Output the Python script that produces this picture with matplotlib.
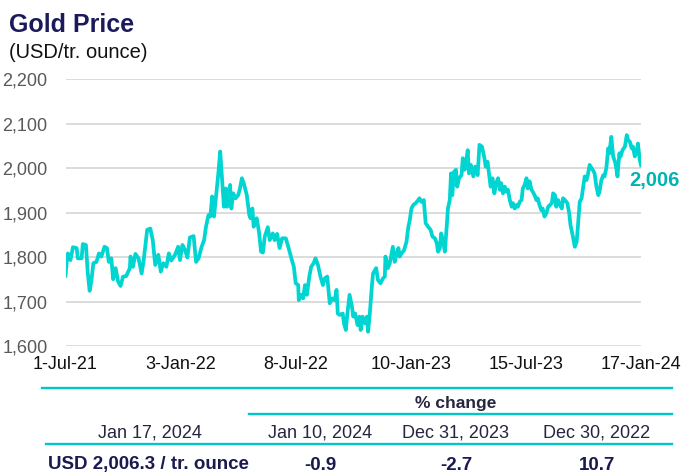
import matplotlib
matplotlib.use("Agg")
import matplotlib.pyplot as plt
from matplotlib.lines import Line2D
import pandas as pd

plt.rcParams['font.family'] = ['Liberation Sans', 'DejaVu Sans']

# ---------------- data ----------------
dates = [
"2021-07-01","2021-07-03","2021-07-05","2021-07-09","2021-07-13","2021-07-19","2021-07-21","2021-07-27","2021-07-29","2021-08-03",
"2021-08-06","2021-08-09","2021-08-12","2021-08-15","2021-08-20","2021-08-24","2021-08-28","2021-09-02","2021-09-06","2021-09-09",
"2021-09-13","2021-09-16","2021-09-20","2021-09-24","2021-09-28","2021-10-02","2021-10-07","2021-10-13","2021-10-14","2021-10-18",
"2021-10-22","2021-10-27","2021-11-01","2021-11-04","2021-11-10","2021-11-15","2021-11-19","2021-11-23","2021-11-28","2021-12-02",
"2021-12-06","2021-12-11","2021-12-15","2021-12-19","2021-12-25","2021-12-30","2022-01-02","2022-01-06","2022-01-10","2022-01-14",
"2022-01-18","2022-01-24","2022-01-28","2022-02-01","2022-02-06","2022-02-10","2022-02-13","2022-02-17",
"2022-02-20","2022-02-23","2022-02-26","2022-03-02","2022-03-05","2022-03-08","2022-03-10","2022-03-14","2022-03-17","2022-03-19",
"2022-03-24","2022-03-26","2022-03-29","2022-04-02","2022-04-06","2022-04-09","2022-04-12","2022-04-15","2022-04-20","2022-04-24",
"2022-04-26","2022-04-29","2022-05-01","2022-05-06","2022-05-10","2022-05-13","2022-05-16","2022-05-19","2022-05-24","2022-05-27",
"2022-06-01","2022-06-04","2022-06-08","2022-06-12","2022-06-16","2022-06-22","2022-06-26","2022-07-01","2022-07-05","2022-07-08",
"2022-07-12","2022-07-13","2022-07-17","2022-07-20","2022-07-23","2022-07-26","2022-07-30","2022-08-02","2022-08-06","2022-08-09",
"2022-08-13","2022-08-17","2022-08-21","2022-08-24","2022-08-28","2022-09-01","2022-09-05","2022-09-09","2022-09-12","2022-09-14",
"2022-09-17","2022-09-22","2022-09-24","2022-09-27","2022-09-29","2022-10-03","2022-10-07","2022-10-09","2022-10-12","2022-10-16",
"2022-10-19","2022-10-21","2022-10-24","2022-10-28","2022-10-31","2022-11-02","2022-11-05","2022-11-08","2022-11-10","2022-11-15",
"2022-11-18","2022-11-22","2022-11-26","2022-11-29","2022-11-30","2022-12-04","2022-12-07","2022-12-10","2022-12-12","2022-12-15",
"2022-12-18","2022-12-21","2022-12-23","2022-12-26","2022-12-30","2023-01-03","2023-01-06","2023-01-08","2023-01-11","2023-01-14",
"2023-01-18","2023-01-22","2023-01-24","2023-01-27","2023-01-31","2023-02-03","2023-02-07","2023-02-11","2023-02-14","2023-02-18",
"2023-02-21","2023-02-23","2023-02-26","2023-02-28","2023-03-03","2023-03-06","2023-03-09","2023-03-11","2023-03-14","2023-03-16",
"2023-03-18","2023-03-21","2023-03-24","2023-03-26","2023-03-29","2023-04-02","2023-04-04","2023-04-07","2023-04-09","2023-04-12",
"2023-04-14","2023-04-17","2023-04-21","2023-04-24","2023-04-28","2023-05-01","2023-05-05","2023-05-09","2023-05-11","2023-05-14",
"2023-05-17","2023-05-19","2023-05-22","2023-05-25","2023-05-28","2023-05-31","2023-06-03","2023-06-05","2023-06-08","2023-06-11",
"2023-06-13","2023-06-16","2023-06-19","2023-06-22","2023-06-24","2023-06-27","2023-06-30","2023-07-02","2023-07-05","2023-07-08",
"2023-07-10","2023-07-13","2023-07-16","2023-07-18","2023-07-21","2023-07-24","2023-07-26","2023-07-29","2023-08-01","2023-08-03",
"2023-08-06","2023-08-09","2023-08-11","2023-08-14","2023-08-17","2023-08-20","2023-08-23","2023-08-26","2023-08-28","2023-08-31",
"2023-09-02","2023-09-05","2023-09-08","2023-09-11","2023-09-13","2023-09-16","2023-09-20","2023-09-23","2023-09-25","2023-09-29",
"2023-10-02","2023-10-05","2023-10-07","2023-10-10","2023-10-13","2023-10-15","2023-10-18","2023-10-21","2023-10-23","2023-10-26",
"2023-10-29","2023-10-31","2023-11-03","2023-11-06","2023-11-09","2023-11-11","2023-11-14","2023-11-17","2023-11-19","2023-11-22",
"2023-11-25","2023-11-27","2023-11-30","2023-12-03","2023-12-06","2023-12-08","2023-12-10","2023-12-13","2023-12-15","2023-12-18",
"2023-12-22","2023-12-25","2023-12-27","2023-12-30","2024-01-02","2024-01-04","2024-01-07","2024-01-10","2024-01-12","2024-01-15",
"2024-01-17",
]
prices = [
1758,1789,1808,1793,1822,1820,1797,1797,1829,1827,
1764,1724,1748,1786,1789,1808,1801,1823,1820,1789,
1797,1750,1775,1745,1735,1756,1757,1775,1801,1778,
1807,1797,1763,1789,1861,1864,1838,1782,1805,1767,
1786,1778,1808,1792,1805,1823,1793,1827,1816,1799,
1844,1847,1789,1797,1823,1838,1868,1894,
1891,1936,1891,1947,1988,2037,1996,1913,1954,1913,
1962,1909,1943,1932,1939,1954,1977,1966,1939,1894,
1887,1909,1868,1887,1853,1812,1810,1846,1867,1838,
1853,1838,1852,1820,1842,1842,1823,1797,1778,1741,
1737,1703,1715,1707,1737,1715,1756,1778,1786,1797,
1782,1756,1737,1752,1756,1696,1707,1703,1726,1673,
1670,1673,1651,1636,1666,1715,1688,1666,1673,1647,
1666,1636,1666,1651,1666,1632,1677,1733,1763,1775,
1748,1741,1752,1756,1801,1775,1786,1808,1823,1789,
1808,1820,1801,1808,1815,1834,1868,1880,1909,1917,
1921,1928,1932,1924,1928,1876,1868,1861,1846,1842,
1831,1812,1820,1853,1838,1812,1868,1909,1928,1988,
1939,1992,1996,1958,1977,1984,2022,1996,2011,2040,
1988,2007,1981,2003,1984,2052,2048,2022,2003,2014,
1981,1958,1977,1943,1966,1977,1951,1966,1943,1958,
1947,1951,1928,1913,1921,1909,1917,1913,1924,1928,
1954,1962,1977,1954,1970,1951,1947,1939,1928,1932,
1917,1905,1909,1891,1898,1913,1917,1921,1943,1939,
1913,1928,1917,1909,1932,1928,1921,1898,1872,1846,
1823,1834,1868,1924,1932,1951,1981,1973,1984,2007,
2000,1996,1988,1958,1939,1947,1973,1984,1981,2000,
2044,2033,2070,2026,2014,2000,1981,2033,2026,2040,
2048,2074,2063,2059,2044,2048,2026,2037,2055,2018,
2006.3,
]
assert len(dates) == len(prices)

tick_dates = ["2021-07-01", "2022-01-03", "2022-07-08", "2023-01-10", "2023-07-15", "2024-01-17"]
tick_labels = ["1-Jul-21", "3-Jan-22", "8-Jul-22", "10-Jan-23", "15-Jul-23", "17-Jan-24"]
y_ticks = [1600, 1700, 1800, 1900, 2000, 2100, 2200]

title = "Gold Price"
subtitle = "(USD/tr. ounce)"
table_group_header = "% change"
table_date_current = "Jan 17, 2024"
table_dates_compare = ["Jan 10, 2024", "Dec 31, 2023", "Dec 30, 2022"]
pct_changes = [-0.9, -2.7, 10.7]
current_price_text = "USD 2,006.3 / tr. ounce"

# ---------------- style ----------------
W, H = 684, 474
LINE_C = "#00D5D2"
LABEL_C = "#00B4B2"
TEAL_RULE = "#00C8C8"
NAVY = "#1B1B5C"
VAL_C = "#1A1A4E"
TXT_DARK = "#26263F"
GRID_C = "#D9D9D9"


def fx(px):
    return px / W


def fy(py):
    return 1 - py / H


fig = plt.figure(figsize=(W / 100, H / 100), dpi=100)
ax = fig.add_axes([fx(65.5), fy(346), fx(641) - fx(65.5), fy(79) - fy(346)])

x = pd.to_datetime(dates)
ax.plot(x, prices, color=LINE_C, lw=2.7, solid_joinstyle="round", zorder=3)

ax.set_xlim(pd.Timestamp(tick_dates[0]), pd.Timestamp(tick_dates[-1]))
ax.set_ylim(y_ticks[0], y_ticks[-1])
ax.set_yticks(y_ticks)
ax.set_yticklabels([f"{v:,}" for v in y_ticks])
ax.set_xticks(pd.to_datetime(tick_dates))
ax.set_xticklabels(tick_labels)

ax.grid(axis="y", color=GRID_C, lw=1.3, zorder=0)
ax.grid(axis="x", visible=False)
for s in ax.spines.values():
    s.set_visible(False)
ax.tick_params(axis="both", length=0)
ax.tick_params(axis="y", pad=13, labelsize=13, labelcolor="#595959")
ax.tick_params(axis="x", pad=7, labelsize=13, labelcolor="#111111")

# end label
ax.annotate(f"{prices[-1]:,.0f}", xy=(x[-1], prices[-1]), xytext=(-12, -15),
            textcoords="offset pixels", ha="left", va="center",
            fontsize=14.5, fontweight="bold", color=LABEL_C, annotation_clip=False)

# titles
fig.text(fx(9), fy(32.3), title, fontsize=18, fontweight="bold", color=NAVY, va="baseline", ha="left")
fig.text(fx(9), fy(58), subtitle, fontsize=14.5, color="#111111", va="baseline", ha="left")


# ---------------- table ----------------
def hline(py, x0, x1):
    fig.add_artist(Line2D([fx(x0), fx(x1)], [fy(py), fy(py)], color=TEAL_RULE, lw=1.7,
                          transform=fig.transFigure))


hline(388.3, 42, 672)
hline(414.3, 249, 672)
hline(444.3, 46, 672)

col_x = [150, 320, 456, 597]
fig.text(fx(456), fy(403.5), table_group_header, fontsize=12.5, fontweight="bold", color=TXT_DARK,
         ha="center", va="center")
fig.text(fx(col_x[0]), fy(433.5), table_date_current, fontsize=13, color=TXT_DARK, ha="center", va="center")
for cx, d in zip(col_x[1:], table_dates_compare):
    fig.text(fx(cx), fy(433.5), d, fontsize=13, color=TXT_DARK, ha="center", va="center")

fig.text(fx(148.5), fy(465), current_price_text, fontsize=13.5, fontweight="bold", color=VAL_C,
         ha="center", va="center")
for cx, v in zip(col_x[1:], pct_changes):
    fig.text(fx(cx), fy(465), f"{v:.1f}", fontsize=13.5, fontweight="bold", color=VAL_C,
             ha="center", va="center")

fig.savefig("out.png", dpi=100)
